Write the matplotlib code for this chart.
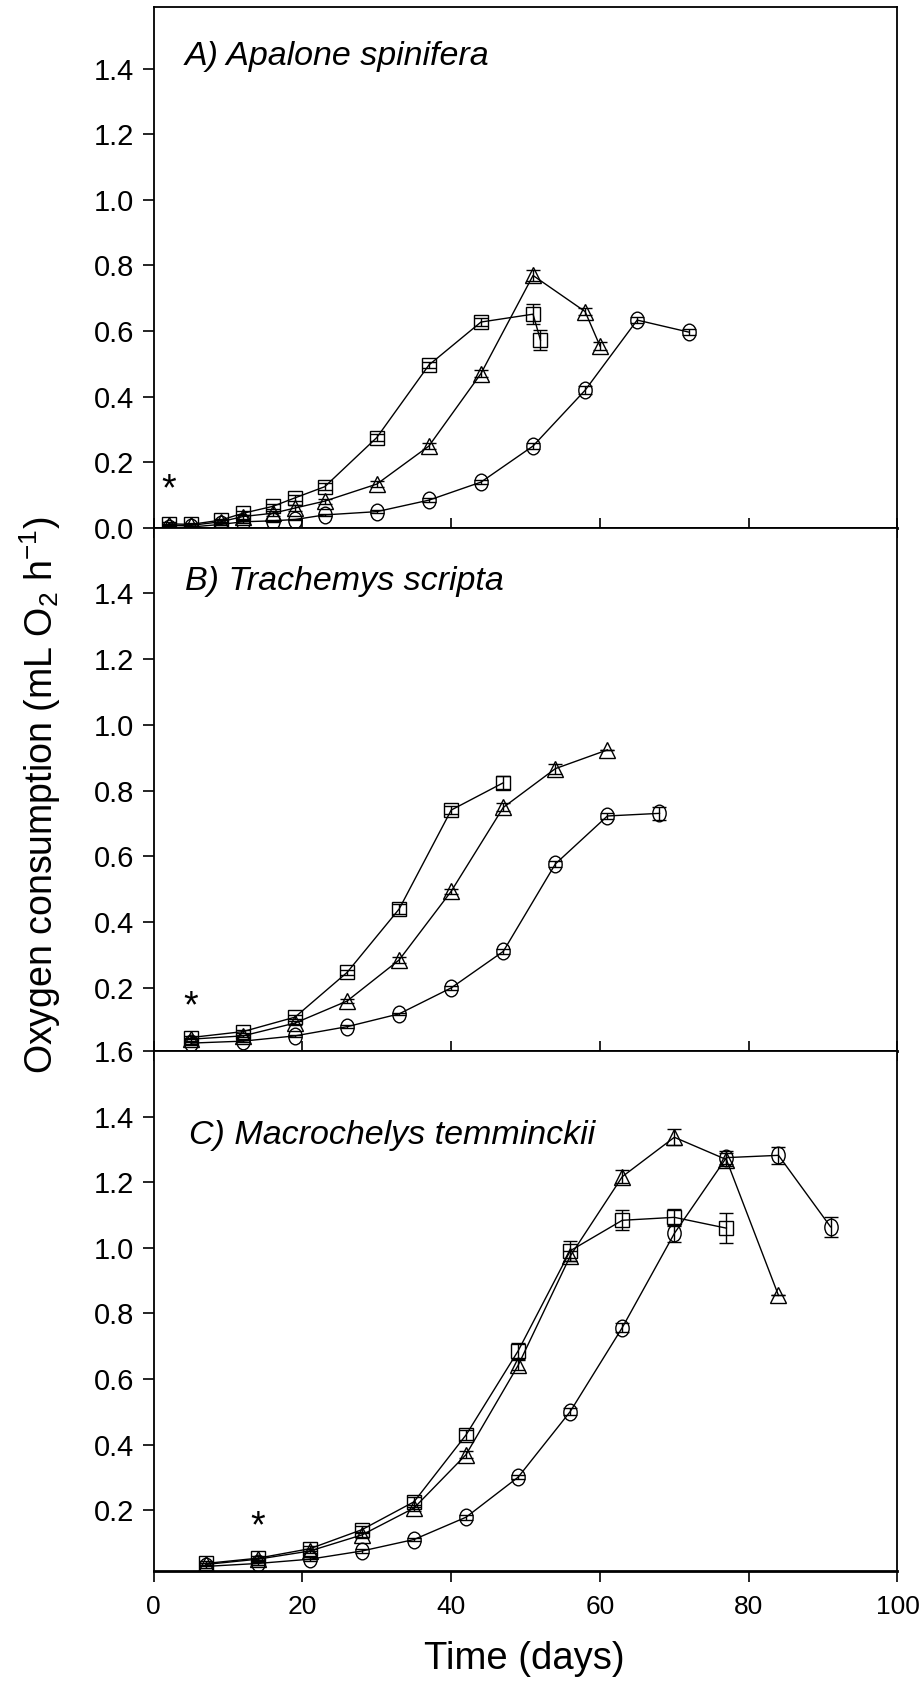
import numpy as np
import matplotlib.pyplot as plt
from matplotlib import font_manager
from matplotlib.path import Path
from matplotlib.transforms import Affine2D

# fonts: narrow sans if present, else Arial-like
names = {f.name for f in font_manager.fontManager.ttflist}
narrow = "Liberation Sans Narrow" if "Liberation Sans Narrow" in names else "Liberation Sans"
plt.rcParams["font.family"] = ["Liberation Sans", "DejaVu Sans"]
plt.rcParams["mathtext.fontset"] = "custom"
plt.rcParams["mathtext.rm"] = narrow
plt.rcParams["mathtext.it"] = narrow + ":italic"

# ---- data (days, mL O2 / h, s.e.) ----
# A) Apalone spinifera
a_circ_x = [2, 5, 9, 12, 16, 19, 23, 30, 37, 44, 51, 58, 65, 72]
a_circ_y = [0.0, 0.002, 0.010, 0.018, 0.021, 0.025, 0.039, 0.049, 0.084, 0.139, 0.249, 0.419, 0.633, 0.596]
a_circ_e = [0.003, 0.003, 0.003, 0.003, 0.003, 0.003, 0.004, 0.005, 0.006, 0.007, 0.008, 0.012, 0.010, 0.009]
a_sq_x = [2, 5, 9, 12, 16, 19, 23, 30, 37, 44, 51, 52]
a_sq_y = [0.012, 0.010, 0.023, 0.044, 0.065, 0.091, 0.125, 0.275, 0.496, 0.627, 0.651, 0.572]
a_sq_e = [0.004, 0.004, 0.005, 0.006, 0.007, 0.010, 0.010, 0.012, 0.010, 0.012, 0.030, 0.030]
a_tri_x = [2, 5, 9, 12, 16, 19, 23, 30, 37, 44, 51, 58, 60]
a_tri_y = [0.007, 0.007, 0.018, 0.034, 0.044, 0.060, 0.081, 0.133, 0.249, 0.470, 0.769, 0.659, 0.554]
a_tri_e = [0.003, 0.004, 0.005, 0.006, 0.007, 0.008, 0.008, 0.008, 0.010, 0.012, 0.018, 0.010, 0.012]

# B) Trachemys scripta
b_circ_x = [5, 12, 19, 26, 33, 40, 47, 54, 61, 68]
b_circ_y = [0.032, 0.038, 0.054, 0.082, 0.121, 0.200, 0.311, 0.577, 0.723, 0.731]
b_circ_e = [0.004, 0.003, 0.004, 0.005, 0.004, 0.006, 0.008, 0.010, 0.010, 0.020]
b_sq_x = [5, 12, 19, 26, 33, 40, 47]
b_sq_y = [0.049, 0.067, 0.111, 0.247, 0.440, 0.741, 0.824]
b_sq_e = [0.006, 0.005, 0.007, 0.008, 0.015, 0.012, 0.020]
b_tri_x = [5, 12, 19, 26, 33, 40, 47, 54, 61]
b_tri_y = [0.044, 0.054, 0.093, 0.160, 0.285, 0.494, 0.749, 0.867, 0.924]
b_tri_e = [0.005, 0.004, 0.006, 0.006, 0.008, 0.008, 0.012, 0.015, 0.0]

# C) Macrochelys temminckii
c_circ_x = [7, 14, 21, 28, 35, 42, 49, 56, 63, 70, 77, 84, 91]
c_circ_y = [0.029, 0.038, 0.051, 0.076, 0.111, 0.179, 0.301, 0.501, 0.757, 1.044, 1.275, 1.282, 1.064]
c_circ_e = [0.005, 0.005, 0.006, 0.005, 0.005, 0.008, 0.006, 0.010, 0.015, 0.025, 0.020, 0.025, 0.030]
c_sq_x = [7, 14, 21, 28, 35, 42, 49, 56, 63, 70, 77]
c_sq_y = [0.038, 0.054, 0.083, 0.141, 0.226, 0.430, 0.686, 0.991, 1.084, 1.093, 1.060]
c_sq_e = [0.006, 0.006, 0.008, 0.010, 0.015, 0.015, 0.025, 0.030, 0.030, 0.025, 0.045]
c_tri_x = [7, 14, 21, 28, 35, 42, 49, 56, 63, 70, 77, 84]
c_tri_y = [0.035, 0.051, 0.076, 0.125, 0.207, 0.370, 0.642, 0.975, 1.217, 1.337, 1.269, 0.855]
c_tri_e = [0.005, 0.005, 0.006, 0.008, 0.010, 0.012, 0.015, 0.015, 0.020, 0.025, 0.020, 0.0]

titles = ["A) Apalone spinifera", "B) Trachemys scripta", "C) Macrochelys temminckii"]
star_x = [2, 5, 14]
star_y = [0.115, 0.14, 0.148]

# tall ellipse marker for the "circles"
ellipse = Path.unit_circle().transformed(Affine2D().scale(0.8, 1.0))

panels = [
    [(a_circ_x, a_circ_y, a_circ_e), (a_sq_x, a_sq_y, a_sq_e), (a_tri_x, a_tri_y, a_tri_e)],
    [(b_circ_x, b_circ_y, b_circ_e), (b_sq_x, b_sq_y, b_sq_e), (b_tri_x, b_tri_y, b_tri_e)],
    [(c_circ_x, c_circ_y, c_circ_e), (c_sq_x, c_sq_y, c_sq_e), (c_tri_x, c_tri_y, c_tri_e)],
]
markers = [(ellipse, 12), ("s", 9.5), ("^", 12)]

W, H = 920, 1685
fig = plt.figure(figsize=(W / 100, H / 100), dpi=100)
left, right = 153.7, 897.5
tops = [7.5, 527.7, 1051]
bots = [527.7, 1051, 1571]
ylims = [(0, 1.586), (0.008, 1.6), (0.015, 1.6)]
yticks = [np.arange(0, 1.41, 0.2), np.arange(0.2, 1.41, 0.2), np.arange(0.2, 1.61, 0.2)]
title_pos = [(0.042, 0.905), (0.042, 0.898), (0.047, 0.838)]

for i in range(3):
    ax = fig.add_axes([left / W, 1 - bots[i] / H, (right - left) / W, (bots[i] - tops[i]) / H])
    for (x, y, e), (m, ms) in zip(panels[i], markers):
        ax.errorbar(x, y, yerr=e, color="black", lw=1.0, elinewidth=1.0, capsize=5, capthick=1.0,
                    marker=m, ms=ms, mfc="none", mec="black", mew=1.0, zorder=3)
    ax.set_xlim(0, 100)
    ax.set_ylim(*ylims[i])
    ax.set_yticks(yticks[i])
    ax.set_yticklabels(["%.1f" % v for v in yticks[i]], fontsize=21)
    ax.set_xticks(np.arange(0, 101, 20))
    for s in ax.spines.values():
        s.set_linewidth(1.3)
    ax.spines["bottom"].set_linewidth(2.0)
    ax.tick_params(axis="y", direction="out", length=8, width=1.2, pad=6)
    if i < 2:
        ax.tick_params(axis="x", direction="inout", length=14, width=1.2, labelbottom=False)
    else:
        ax.tick_params(axis="x", direction="out", length=8, width=1.2, pad=9)
        ax.set_xticklabels([str(v) for v in range(0, 101, 20)], fontsize=19, family=narrow)
    ax.text(title_pos[i][0], title_pos[i][1], titles[i], transform=ax.transAxes, fontsize=24.5,
            family=narrow, style="italic", ha="left", va="center")
    ax.text(star_x[i], star_y[i], "*", fontsize=27, ha="center", va="center")

fig.text(0.0435, 0.528, r"Oxygen consumption (mL O$_2$ h$^{\mathregular{-1}}$)", rotation=90,
         fontsize=27, family=narrow, ha="center", va="center")
fig.text(0.5695, 0.0155, "Time (days)", fontsize=27.5, family=narrow, ha="center", va="center")

fig.savefig("out.png", dpi=100)
